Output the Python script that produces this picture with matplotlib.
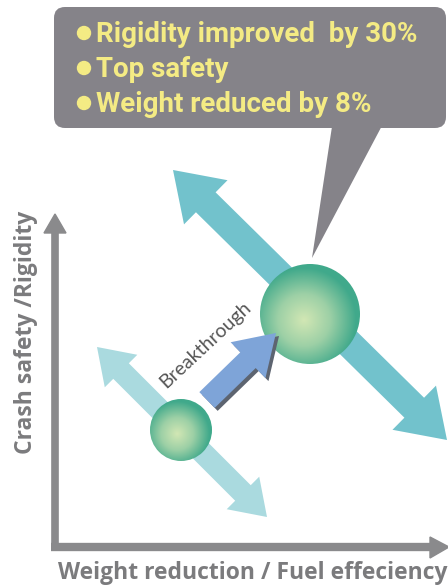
import numpy as np
import matplotlib
matplotlib.use("Agg")
import matplotlib.pyplot as plt
from matplotlib.patches import Polygon, Circle, FancyBboxPatch
from matplotlib.colors import LinearSegmentedColormap

# trade-off lines (start, end) in canvas pixels
tradeoff_old = [(97, 347), (267, 517)]
tradeoff_new = [(173, 170), (447, 440)]

# design points: conventional body and new body
point_x = [181, 310]
point_y = [430, 314]
point_r = [31, 50]

# breakthrough move between the two points
move_start = (207, 400)
move_end = (276, 333)

highlights = ["Rigidity improved  by 30%", "Top safety", "Weight reduced by 8%"]
x_label = "Weight reduction / Fuel effeciency"
y_label = "Crash safety /Rigidity"

AXIS_GRAY = "#8a8a8c"
LABEL_GRAY = "#7b7b7d"
BOX_GRAY = "#858389"
TEXT_YELLOW = "#f4eb84"
TEAL = "#72c2cc"
TEAL_LIGHT = "#aadadf"
BLUE = "#7ea4d8"

W, H = 448, 588
fig = plt.figure(figsize=(W / 100, H / 100), dpi=100)
ax = fig.add_axes([0, 0, 1, 1])
ax.set_xlim(0, W)
ax.set_ylim(H, 0)
ax.set_aspect("equal")
ax.axis("off")


def arrow_poly(p0, p1, half_w, head_half, head_len, double=False):
    p0, p1 = np.asarray(p0, float), np.asarray(p1, float)
    u = (p1 - p0) / np.linalg.norm(p1 - p0)
    n = np.array([-u[1], u[0]])
    pts = []
    b1 = p1 - u * head_len
    if double:
        b0 = p0 + u * head_len
        pts += [p0, b0 + n * head_half, b0 + n * half_w]
    else:
        pts += [p0 + n * half_w]
    pts += [b1 + n * half_w, b1 + n * head_half, p1,
            b1 - n * head_half, b1 - n * half_w]
    if double:
        pts += [b0 - n * half_w, b0 - n * head_half]
    else:
        pts += [p0 - n * half_w]
    return np.array(pts)


# axes arrows
ax.plot([55, 55], [551, 230], color=AXIS_GRAY, lw=5.5, solid_capstyle="butt", zorder=2)
ax.add_patch(Polygon([(44, 233), (55, 214), (66, 233)], color=AXIS_GRAY, zorder=2))
ax.plot([51, 432], [547, 547], color=AXIS_GRAY, lw=6, solid_capstyle="butt", zorder=2)
ax.add_patch(Polygon([(430, 537), (449, 547), (430, 558)], color=AXIS_GRAY, zorder=2))

ax.text(26, 332, y_label, rotation=90, ha="center", va="center",
        fontsize=16.5, fontweight="bold", color=LABEL_GRAY, family="Open Sans")
ax.text(253, 573, x_label, ha="center", va="center",
        fontsize=16.5, fontweight="bold", color=LABEL_GRAY, family="Open Sans")

# trade-off arrows
ax.add_patch(Polygon(arrow_poly(*tradeoff_old, 11, 23, 34, double=True),
                     color=TEAL_LIGHT, lw=0, zorder=3))
ax.add_patch(Polygon(arrow_poly(*tradeoff_new, 14, 31, 46, double=True),
                     color=TEAL, lw=0, zorder=3))

# callout box with tail
ax.add_patch(Polygon([(333, 120), (385, 120), (312, 258)], color=BOX_GRAY, lw=0, zorder=4))
ax.add_patch(FancyBboxPatch((54, 7), 392, 121, boxstyle="round,pad=0,rounding_size=11",
                            fc=BOX_GRAY, ec="none", zorder=4))
for i, line in enumerate(highlights):
    base = 42 + i * 35
    ax.add_patch(Circle((84, base - 9), 6.5, color=TEXT_YELLOW, zorder=5))
    ax.text(96, base, line, ha="left", va="baseline", fontsize=20, fontweight="bold",
            color=TEXT_YELLOW, family="Roboto", zorder=5)

# gradient spheres
sphere_cmap = LinearSegmentedColormap.from_list("sphere", ["#d2e7b4", "#9dd0a6", "#40a98b"])
gy, gx = np.mgrid[-1:1:200j, -1:1:200j]
for cx, cy, r in zip(point_x, point_y, point_r):
    dist = np.sqrt((gx + 0.12) ** 2 + (gy - 0.12) ** 2)
    im = ax.imshow(dist, cmap=sphere_cmap, vmin=0, vmax=1.05,
                   extent=(cx - r, cx + r, cy + r, cy - r), zorder=6, interpolation="bilinear")
    clip = Circle((cx, cy), r, transform=ax.transData)
    im.set_clip_path(clip)

# breakthrough arrow with drop shadow
shape = arrow_poly(move_start, move_end, 11, 25, 39)
ax.add_patch(Polygon(shape + [3, 3], color="#5d6470", lw=0, zorder=7))
ax.add_patch(Polygon(shape, color=BLUE, lw=0, zorder=8))
ax.text(205, 345, "Breakthrough", rotation=43, ha="center", va="center",
        fontsize=14, color="#555555", family="Lato", zorder=8)

fig.savefig("out.png", dpi=100)
